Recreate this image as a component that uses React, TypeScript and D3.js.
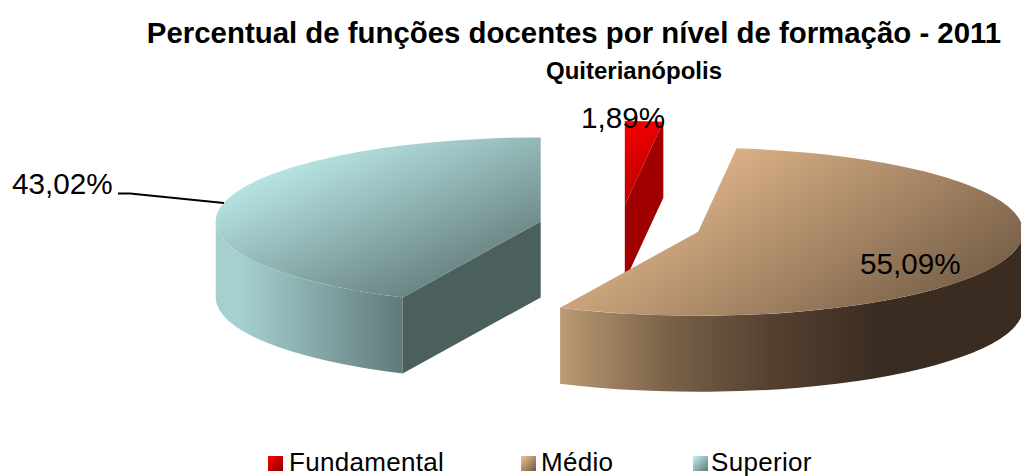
import React from 'react';
import * as d3 from 'd3';

const categories = ['Fundamental', 'Médio', 'Superior'];
const values = [1.89, 55.09, 43.02];
const valueLabels = ['1,89%', '55,09%', '43,02%'];

const width = 1021;
const height = 476;
const font = '"Liberation Sans", Arial, sans-serif';

// pie geometry, tilted ellipse
const base = { x: 620, y: 226 };
const rx = 325;
const ry = 84;
const depth = 76;
const explode = 0.25;

const pie = d3.pie<number>().sort(null).startAngle(0).endAngle(2 * Math.PI);
const slices = pie(values);

const colors = [
  { top0: '#f60000', top1: '#b00000', cut: '#a00000', swatch0: '#ff0000', swatch1: '#8c0000' },
  { top0: '#e4b88c', top1: '#7a624a', cut: '#3a2c21', swatch0: '#f0c495', swatch1: '#6f5842' },
  { top0: '#b8e4e4', top1: '#66807f', cut: '#4b5f5c', swatch0: '#c5f2f2', swatch1: '#5f7878' },
];

const wallRange: [number, number][] = [
  [0, 880],
  [560, 880],
  [240, 403],
];
const wallColors: string[][] = [
  ['#a00000', '#a00000'],
  ['#bb9a74', '#7a6249', '#544030', '#3a2c21'],
  ['#a6d0d0', '#607a7a'],
];
const topStops: [number, number, number, number][] = [
  [625, 121, 664, 205],
  [700, 140, 849, 363],
  [230, 190, 302, 352],
];
const legendX = [268, 521, 693];
const legendTextX = [289, 541, 711];

const App = () => {
  const parts = slices.map((s, i) => {
    const mid = (s.startAngle + s.endAngle) / 2;
    const cx = base.x + explode * rx * Math.sin(mid);
    const cy = base.y - explode * ry * Math.cos(mid);
    const pt = (a: number, dy = 0): [number, number] => [cx + rx * Math.sin(a), cy - ry * Math.cos(a) + dy];
    const a0 = s.startAngle;
    const a1 = s.endAngle;
    const large = a1 - a0 > Math.PI ? 1 : 0;

    const top = d3.path();
    top.moveTo(cx, cy);
    top.lineTo(...pt(a0));
    const e = pt(a1);
    const topD = `${top.toString()}A${rx},${ry} 0 ${large} 1 ${e[0]},${e[1]}Z`;

    // outer wall only on the front half
    const w0 = Math.max(a0, Math.PI / 2);
    const w1 = Math.min(a1, (3 * Math.PI) / 2);
    let wallD = '';
    if (w1 > w0) {
      const p0 = pt(w0);
      const p1 = pt(w1);
      const p2 = pt(w1, depth);
      const p3 = pt(w0, depth);
      wallD = `M${p0}A${rx},${ry} 0 0 1 ${p1}L${p2}A${rx},${ry} 0 0 0 ${p3}Z`;
    }

    // cut faces that face the viewer
    const cuts: string[] = [];
    const quad = (a: number) => {
      const p = pt(a);
      const q = pt(a, depth);
      return `M${cx},${cy}L${p}L${q}L${cx},${cy + depth}Z`;
    };
    if (i === 0) cuts.push(quad(a1));
    if (i === 2) cuts.push(quad(a0));

    return { i, topD, wallD, cuts };
  });

  return (
    <svg
      width={width}
      height={height}
      viewBox={`0 0 ${width} ${height}`}
      style={{ position: 'absolute', left: 0, top: 0, background: '#fff' }}
      fontFamily={font}
    >
      <defs>
        {colors.map((c, i) => (
          <React.Fragment key={i}>
            <linearGradient id={`top${i}`} gradientUnits="userSpaceOnUse"
              x1={topStops[i][0]} y1={topStops[i][1]} x2={topStops[i][2]} y2={topStops[i][3]}>
              <stop offset="0" stopColor={c.top0} />
              <stop offset="1" stopColor={c.top1} />
            </linearGradient>
            <linearGradient id={`wall${i}`} gradientUnits="userSpaceOnUse"
              x1={wallRange[i][0]} y1={0} x2={wallRange[i][1]} y2={0}>
              {wallColors[i].map((col, j) => (
                <stop key={j} offset={j / (wallColors[i].length - 1)} stopColor={col} />
              ))}
            </linearGradient>
            <linearGradient id={`sw${i}`} x1="0" y1="0" x2="1" y2="1">
              <stop offset="0" stopColor={c.swatch0} />
              <stop offset="1" stopColor={c.swatch1} />
            </linearGradient>
          </React.Fragment>
        ))}
      </defs>

      <text x={574} y={43} textAnchor="middle" fontSize={29.4} fontWeight="bold">
        Percentual de funções docentes por nível de formação - 2011
      </text>
      <text x={634} y={79} textAnchor="middle" fontSize={24} fontWeight="bold">
        Quiterianópolis
      </text>

      {/* draw order: teal, red, then tan on top */}
      {[2, 0, 1].map((k) => {
        const p = parts[k];
        return (
          <g key={k}>
            {p.wallD && <path d={p.wallD} fill={`url(#wall${k})`} />}
            {p.cuts.map((d, j) => (
              <path key={j} d={d} fill={colors[k].cut} />
            ))}
            <path d={p.topD} fill={`url(#top${k})`} />
          </g>
        );
      })}

      <path d="M118,193.5L130,193.5L224,203" fill="none" stroke="#000" strokeWidth={2} />
      <text x={12} y={194} fontSize={29.7}>{valueLabels[2]}</text>
      <text x={581} y={128} fontSize={29.7}>{valueLabels[0]}</text>
      <text x={860} y={274} fontSize={29.7}>{valueLabels[1]}</text>

      {categories.map((c, i) => (
        <g key={c}>
          <rect x={legendX[i]} y={456} width={15} height={15} fill={`url(#sw${i})`} />
          <text x={legendTextX[i]} y={470.5} fontSize={26} letterSpacing={0.3}>{c}</text>
        </g>
      ))}
    </svg>
  );
};

export default App;
